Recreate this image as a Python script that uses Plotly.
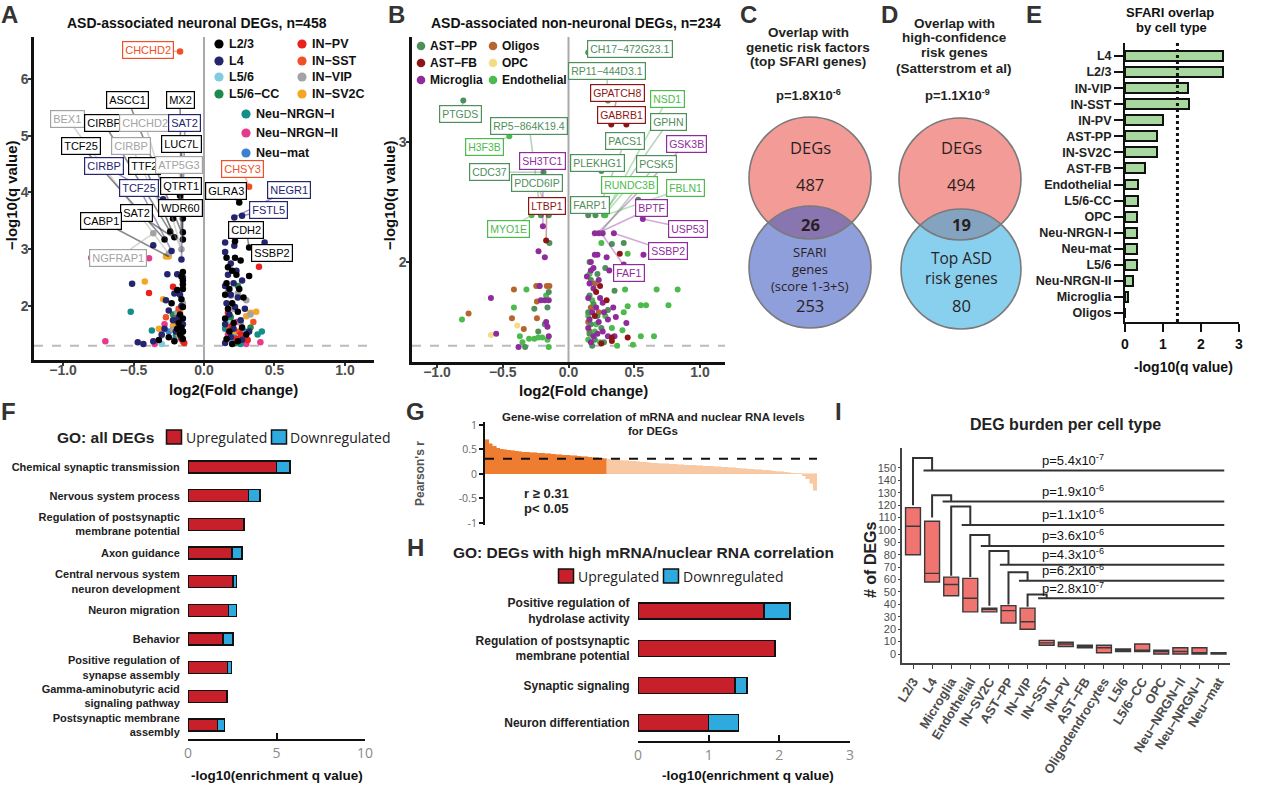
import plotly.graph_objects as go

W, H = 1280, 791
SANS = "Liberation Sans, Arial, Helvetica, sans-serif"
NARROW = "Liberation Sans Narrow, Liberation Sans, Arial, sans-serif"
HUMAN = "Open Sans, Noto Sans, sans-serif"
M = "\u2212"

def fx(x):
    return x / W

def fy(y):
    return 1 - y / H

# ---------------- Panel A data: (log2 fold change, -log10 q) per neuronal cell type
A_L23 = [(-0.17, 3.94), (-0.22, 3.54), (-0.15, 3.54), (-0.24, 3.31), (-0.21, 3.21), (-0.28, 3.17), (-0.15, 3.30),
         (-0.15, 3.17), (-0.15, 2.60), (-0.16, 2.52), (-0.15, 2.45), (-0.15, 2.38), (-0.15, 2.30), (-0.19, 2.28),
         (-0.16, 2.12), (-0.23, 2.05), (-0.15, 1.98), (-0.17, 1.85), (-0.15, 1.78), (-0.18, 1.70), (-0.16, 1.62),
         (-0.15, 1.55), (-0.17, 1.50), (-0.19, 1.60), (-0.25, 1.45), (-0.15, 1.42), (-0.21, 1.38), (-0.32, 1.40),
         (0.25, 3.82), (0.32, 3.03), (0.22, 3.14), (0.16, 2.85), (0.22, 2.85), (0.26, 2.80), (0.17, 2.68),
         (0.20, 2.62), (0.23, 2.55), (0.32, 2.53), (0.16, 2.40), (0.18, 2.30), (0.25, 2.30), (0.15, 2.20),
         (0.28, 2.15), (0.20, 2.05), (0.17, 1.95), (0.24, 1.90), (0.15, 1.78), (0.21, 1.70), (0.27, 1.62),
         (0.18, 1.55), (0.30, 1.50), (0.16, 1.42), (0.24, 1.38), (0.20, 1.33)]
A_L4 = [(-0.29, 3.88), (-0.16, 3.72), (-0.36, 3.07), (-0.23, 2.97), (-0.16, 2.82), (-0.26, 2.56), (-0.19, 2.56),
        (-0.51, 2.39), (-0.15, 2.50), (-0.17, 2.20), (-0.21, 2.22), (-0.27, 2.10), (-0.16, 2.00), (-0.25, 1.92),
        (-0.18, 1.80), (-0.22, 1.75), (-0.15, 1.68), (-0.28, 1.60), (-0.20, 1.55), (-0.47, 1.36), (-0.43, 1.33),
        (-0.36, 1.38), (-0.16, 1.45), (-0.30, 1.50),
        (0.215, 3.56), (0.27, 3.59), (0.15, 3.12), (0.43, 3.12), (0.215, 3.06), (0.15, 2.95), (0.19, 2.75),
        (0.23, 2.62), (0.17, 2.55), (0.27, 2.45), (0.15, 2.35), (0.21, 2.40), (0.19, 2.20), (0.24, 2.15),
        (0.16, 2.05), (0.22, 1.98), (0.29, 1.95), (0.18, 1.85), (0.26, 1.75), (0.15, 1.68), (0.21, 1.60),
        (0.32, 1.55), (0.19, 1.45), (0.27, 1.40), (0.15, 1.35)]
A_L56 = [(-0.22, 1.62), (-0.17, 1.45), (0.20, 1.38), (0.28, 1.50), (-0.30, 1.33), (0.16, 1.72)]
A_L56CC = [(-0.17, 1.70), (-0.22, 1.85), (0.24, 2.35), (0.19, 1.80), (0.28, 1.45), (-0.15, 1.55), (0.33, 1.62),
           (0.22, 1.35)]
A_INPV = [(-0.22, 2.34), (-0.39, 2.23), (0.39, 2.69), (-0.16, 1.42), (-0.14, 1.35), (0.20, 1.65), (0.26, 1.50),
          (0.31, 1.40), (-0.20, 1.75), (0.17, 1.88), (0.23, 1.42)]
A_INSST = [(-0.17, 6.48), (0.32, 4.10), (-0.18, 1.95), (0.25, 1.55), (-0.15, 1.38), (0.35, 1.72), (0.18, 1.62),
           (-0.27, 1.80)]
A_INVIP = [(-0.36, 3.28), (-0.16, 3.00), (-0.25, 2.92), (-0.15, 2.05), (-0.19, 1.88), (0.17, 2.25), (0.24, 2.22),
           (0.19, 2.18), (0.30, 2.10), (0.33, 1.85), (-0.22, 1.58), (0.21, 1.95), (0.26, 1.70), (-0.30, 1.48)]
A_INSV2C = [(-0.27, 2.87), (-0.25, 2.87), (-0.42, 2.43), (-0.29, 2.12), (-0.17, 1.90), (-0.22, 1.65), (-0.18, 1.50),
            (-0.15, 1.38), (0.33, 1.88), (0.37, 1.90), (0.30, 1.82), (0.22, 1.55), (0.27, 1.40), (-0.32, 1.60)]
A_NRGN1 = [(-0.52, 1.90), (-0.37, 1.57), (0.41, 1.55), (0.38, 1.50), (-0.20, 1.48), (0.15, 1.60), (0.26, 1.33)]
A_NRGN2 = [(-0.80, 2.85), (-0.39, 2.84), (-0.70, 1.38), (-0.35, 1.33), (0.40, 1.36), (-0.21, 1.40), (0.17, 1.50),
           (0.23, 1.72), (-0.28, 1.68), (0.30, 1.33)]
A_NEUMAT = [(-0.25, 1.55), (0.19, 1.63), (-0.17, 1.80), (0.29, 1.55), (0.21, 1.48)]

A_NAMES = ["L2/3", "L4", "L5/6", "L5/6" + M + "CC", "IN" + M + "PV", "IN" + M + "SST", "IN" + M + "VIP",
           "IN" + M + "SV2C", "Neu" + M + "NRGN" + M + "I", "Neu" + M + "NRGN" + M + "II", "Neu" + M + "mat"]
A_SETS = [A_L23, A_L4, A_L56, A_L56CC, A_INPV, A_INSST, A_INVIP, A_INSV2C, A_NRGN1, A_NRGN2, A_NEUMAT]
A_COLORS = ["#000000", "#25246e", "#7fcbe0", "#1b8a4c", "#e8231f", "#f05028", "#a3a3a3", "#f5a623",
            "#138f88", "#e83a8c", "#3d7fd0"]

# gene labels: gene, group index, point (x, y), label position (x, y)
A_LABELS = [
    ("CHCHD2", 5, -0.17, 6.48, -0.40, 6.50), ("ASCC1", 0, -0.16, 3.30, -0.54, 5.63),
    ("MX2", 0, -0.16, 3.30, -0.17, 5.63), ("BEX1", 6, -0.25, 2.92, -0.97, 5.30),
    ("CIRBP", 0, -0.24, 3.31, -0.71, 5.22), ("CHCHD2", 6, -0.16, 3.00, -0.42, 5.23),
    ("SAT2", 1, -0.16, 2.82, -0.135, 5.23), ("TCF25", 0, -0.28, 3.17, -0.87, 4.82),
    ("CIRBP", 6, -0.16, 3.00, -0.52, 4.82), ("LUC7L", 0, -0.15, 3.17, -0.16, 4.85),
    ("CIRBP", 1, -0.29, 3.88, -0.71, 4.46), ("TTF2", 0, -0.21, 3.21, -0.42, 4.46),
    ("ATP5G3", 6, -0.16, 3.00, -0.175, 4.48), ("TCF25", 1, -0.23, 2.97, -0.46, 4.08),
    ("QTRT1", 0, -0.17, 3.94, -0.16, 4.11), ("WDR60", 0, -0.15, 3.54, -0.165, 3.72),
    ("SAT2", 0, -0.22, 3.21, -0.48, 3.64), ("CABP1", 0, -0.25, 2.87, -0.73, 3.50),
    ("NGFRAP1", 6, -0.36, 3.28, -0.61, 2.85), ("CHSY3", 5, 0.32, 4.10, 0.27, 4.41),
    ("GLRA3", 0, 0.25, 3.82, 0.155, 4.03), ("NEGR1", 1, 0.215, 3.56, 0.605, 4.05),
    ("FSTL5", 1, 0.27, 3.59, 0.456, 3.69), ("CDH2", 0, 0.32, 3.03, 0.30, 3.33),
    ("SSBP2", 0, 0.32, 3.03, 0.48, 2.93),
]

# ---------------- Panel B data: non-neuronal cell types
B_ASTPP = [(0.15, 3.75), (-0.80, 3.35), (0.30, 3.35), (-0.19, 2.75), (0.25, 2.76), (-0.21, 2.39), (-0.15, 2.39),
           (0.15, 2.39), (0.205, 2.39), (0.53, 2.52), (-0.145, 2.16), (0.33, 2.15), (0.42, 2.16), (0.35, 1.76),
           (-0.26, 1.61), (-0.23, 1.42), (-0.33, 1.29), (-0.15, 1.75), (0.17, 1.85), (0.16, 1.72), (0.19, 1.65),
           (0.15, 1.58), (0.22, 1.55), (0.17, 1.48), (0.25, 1.45), (0.16, 1.40), (0.20, 1.35), (0.30, 1.60),
           (0.18, 1.30), (0.28, 1.95), (-0.18, 1.48), (-0.16, 1.62), (0.27, 1.33), (0.22, 1.90), (0.16, 2.00)]
B_ASTFB = [(0.325, 3.15), (0.44, 3.15), (-0.17, 2.18), (0.39, 2.07), (0.45, 1.37), (0.33, 1.34), (0.33, 1.37),
           (0.24, 1.80), (0.29, 1.68), (0.21, 1.75), (0.25, 1.32), (0.20, 1.55)]
B_MICRO = [(-0.195, 2.30), (-0.228, 2.09), (-0.18, 2.04), (0.565, 2.36), (0.20, 2.24), (0.23, 2.24), (0.26, 2.24),
           (0.345, 2.24), (0.57, 2.06), (0.20, 2.06), (0.22, 2.06), (0.29, 2.04), (0.17, 2.00), (0.31, 1.93),
           (0.42, 1.98), (0.17, 1.93), (0.14, 1.88), (0.34, 1.62), (0.36, 1.54), (0.44, 1.49), (-0.59, 1.70),
           (-0.55, 1.40), (-0.38, 1.29), (-0.21, 1.68), (-0.18, 1.68), (-0.15, 1.68), (-0.17, 1.50), (-0.16, 1.46),
           (-0.15, 1.38), (-0.22, 1.80), (0.16, 1.82), (0.19, 1.78), (0.15, 1.70), (0.21, 1.62), (0.18, 1.58),
           (0.23, 1.50), (0.15, 1.45), (0.26, 1.42), (0.19, 1.38), (0.17, 1.33), (0.30, 1.38), (0.24, 1.70),
           (0.27, 1.58), (0.22, 1.40), (0.16, 1.52), (0.19, 1.95), (0.23, 1.85), (0.26, 1.66), (0.30, 1.52),
           (0.35, 1.38)]
B_OLIG = [(-0.245, 1.80), (-0.22, 1.80), (-0.165, 1.80), (-0.145, 1.80), (-0.415, 1.77), (-0.76, 1.57),
          (-0.24, 1.67), (-0.43, 1.53), (-0.24, 1.53), (-0.34, 1.44), (0.17, 1.62), (0.23, 1.58), (0.16, 1.42),
          (0.20, 1.82), (0.15, 1.50)]
B_OPC = [(-0.39, 1.47), (-0.59, 1.39)]
B_ENDO = [(-0.45, 3.05), (-0.28, 2.39), (0.27, 2.39), (0.28, 2.39), (0.25, 2.16), (0.45, 2.07), (0.43, 1.77),
          (0.67, 1.77), (0.83, 1.77), (0.55, 1.64), (0.59, 1.64), (0.76, 1.64), (0.45, 1.63), (0.42, 1.58),
          (0.41, 1.43), (0.55, 1.38), (0.65, 1.38), (0.49, 1.31), (-0.32, 1.77), (-0.81, 1.52), (-0.415, 1.62),
          (-0.37, 1.38), (-0.30, 1.36), (-0.26, 1.36), (-0.23, 1.37), (-0.20, 1.37), (-0.16, 1.35), (-0.15, 1.29),
          (-0.35, 1.33), (-0.17, 1.72), (0.16, 1.90), (0.18, 1.68), (0.15, 1.55), (0.21, 1.48), (0.24, 1.33),
          (0.28, 1.55), (0.33, 1.45), (0.15, 1.35), (0.20, 1.42), (0.37, 1.30)]

B_NAMES = ["AST" + M + "PP", "AST" + M + "FB", "Microglia", "Oligos", "OPC", "Endothelial"]
B_SETS = [B_ASTPP, B_ASTFB, B_MICRO, B_OLIG, B_OPC, B_ENDO]
B_COLORS = ["#4f8f5b", "#8e1515", "#8e2c9b", "#b5652d", "#f2dd85", "#4dba4d"]

B_LABELS = [
    ("CH17" + M + "472G23.1", 0, 0.15, 3.75, 0.47, 3.78), ("RP11" + M + "444D3.1", 0, 0.30, 3.35, 0.29, 3.60),
    ("GPATCH8", 1, 0.325, 3.15, 0.375, 3.41), ("GABRB1", 1, 0.44, 3.15, 0.405, 3.23),
    ("NSD1", 5, 0.27, 2.39, 0.75, 3.36), ("GPHN", 0, 0.26, 2.39, 0.76, 3.17),
    ("PTGDS", 0, -0.80, 3.35, -0.82, 3.24), ("RP5" + M + "864K19.4", 0, -0.21, 2.39, -0.30, 3.14),
    ("H3F3B", 5, -0.45, 3.05, -0.64, 2.96), ("PACS1", 0, 0.21, 2.39, 0.43, 3.01),
    ("GSK3B", 2, 0.22, 2.24, 0.895, 2.99), ("SH3TC1", 2, -0.195, 2.30, -0.195, 2.84),
    ("CDC37", 0, -0.19, 2.75, -0.60, 2.75), ("PLEKHG1", 0, 0.25, 2.76, 0.22, 2.83),
    ("PCSK5", 0, 0.24, 2.24, 0.67, 2.82), ("PDCD6IP", 0, -0.15, 2.39, -0.24, 2.66),
    ("RUNDC3B", 5, 0.27, 2.39, 0.464, 2.64), ("FBLN1", 5, 0.28, 2.39, 0.89, 2.62),
    ("LTBP1", 1, -0.17, 2.18, -0.165, 2.47), ("FARP1", 0, 0.15, 2.39, 0.165, 2.48),
    ("MYO1E", 5, -0.28, 2.39, -0.46, 2.28), ("BPTF", 2, 0.22, 2.24, 0.63, 2.45),
    ("USP53", 2, 0.565, 2.36, 0.91, 2.28), ("SSBP2", 2, 0.345, 2.24, 0.755, 2.09),
    ("FAF1", 2, 0.25, 2.24, 0.46, 1.91),
]

# ---------------- Panels C / D (Venn counts)
C_DEG_ONLY, C_OVERLAP, C_SFARI_ONLY = 487, 26, 253
D_DEG_ONLY, D_OVERLAP, D_RISK_ONLY = 494, 19, 80

# ---------------- Panel E
E_CATS = ["L4", "L2/3", "IN-VIP", "IN-SST", "IN-PV", "AST-PP", "IN-SV2C", "AST-FB", "Endothelial", "L5/6-CC",
          "OPC", "Neu-NRGN-I", "Neu-mat", "L5/6", "Neu-NRGN-II", "Microglia", "Oligos"]
E_VALS = [2.59, 2.59, 1.67, 1.68, 1.01, 0.83, 0.83, 0.53, 0.35, 0.35, 0.32, 0.32, 0.32, 0.31, 0.22, 0.09, 0.0]
E_THRESH = 1.38

# ---------------- Panel F
F_TERMS = ["Chemical synaptic transmission", "Nervous system process",
           "Regulation of postsynaptic<br>membrane potential", "Axon guidance",
           "Central nervous system<br>neuron development", "Neuron migration", "Behavior",
           "Positive regulation of<br>synapse assembly", "Gamma-aminobutyric acid<br>signaling pathway",
           "Postsynaptic membrane<br>assembly"]
F_UP = [5.0, 3.43, 3.15, 2.49, 2.55, 2.28, 1.98, 2.23, 2.21, 1.66]
F_DOWN = [0.75, 0.63, 0.0, 0.57, 0.19, 0.46, 0.55, 0.22, 0.0, 0.40]

# ---------------- Panel G (sorted gene-wise Pearson r)
G_R = [0.70, 0.62, 0.57, 0.53, 0.50, 0.49, 0.48, 0.47, 0.46, 0.45, 0.445, 0.44, 0.435, 0.43, 0.425, 0.42,
       0.415, 0.41, 0.40, 0.395, 0.39, 0.385, 0.38, 0.375, 0.37, 0.36, 0.355, 0.35, 0.34, 0.335, 0.33, 0.32,
       0.315,
       0.30, 0.295, 0.29, 0.28, 0.275, 0.27, 0.26, 0.255, 0.25, 0.24, 0.235, 0.23,
       0.22, 0.215, 0.21, 0.21, 0.205, 0.20, 0.195, 0.19, 0.185, 0.18, 0.18, 0.175, 0.17, 0.165, 0.16, 0.16,
       0.155, 0.15,
       0.145, 0.14, 0.135, 0.13, 0.125, 0.12, 0.11, 0.105, 0.10, 0.095, 0.09, 0.085, 0.08,
       0.075, 0.07, 0.06, 0.05, 0.045, 0.04, 0.03, 0.02, 0.01, 0.005,
       -0.04, -0.10, -0.19, -0.33]
G_CUT = 0.31

# ---------------- Panel H
H_TERMS = ["Positive regulation of<br>hydrolase activity", "Regulation of postsynaptic<br>membrane potential",
           "Synaptic signaling", "Neuron differentiation"]
H_UP = [1.78, 1.94, 1.37, 1.00]
H_DOWN = [0.37, 0.0, 0.17, 0.42]

# ---------------- Panel I
I_CATS = ["L2/3", "L4", "Microglia", "Endothelial", "IN" + M + "SV2C", "AST" + M + "PP", "IN" + M + "VIP",
          "IN" + M + "SST", "IN" + M + "PV", "AST" + M + "FB", "Oligodendrocytes", "L5/6", "L5/6" + M + "CC",
          "OPC", "Neu" + M + "NRGN" + M + "II", "Neu" + M + "NRGN" + M + "I", "Neu" + M + "mat"]
I_LOW = [80, 58, 47, 34, 34, 25, 20, 7, 6, 5, 1, 2, 2, 0, 0, 0, 0]
I_MED = [103, 65, 56, 45, 36, 35, 26, 9, 8, 6, 5, 3, 3, 2, 2, 1, 0.5]
I_HIGH = [118, 107, 62, 61, 37, 39, 37, 11, 9.5, 7, 7, 4, 8, 3, 5, 5, 1]
I_BR_START = [120, 110, 63, 62, 39, 40, 38]
I_BR_TOP = [158, 128, 119, 96, 83, 66, 48]
I_BR_LINE = [148, 123, 104, 87, 72, 59, 45]
I_PVALS = ["5.4x10<sup>-7</sup>", "1.9x10<sup>-6</sup>", "1.1x10<sup>-6</sup>", "3.6x10<sup>-6</sup>",
           "4.3x10<sup>-6</sup>", "6.2x10<sup>-6</sup>", "2.8x10<sup>-7</sup>"]


def rgba(hexc, a):
    h = hexc.lstrip("#")
    return "rgba(%d,%d,%d,%.2f)" % (int(h[0:2], 16), int(h[2:4], 16), int(h[4:6], 16), a)


fig = go.Figure()
annotations = []
shapes = []


def text(x, y, t, size=12, color="#111", family=SANS, bold=False, xanchor="center", yanchor="middle",
         angle=0, align="center"):
    annotations.append(dict(x=fx(x), y=fy(y), xref="paper", yref="paper", text=t, showarrow=False,
                            font=dict(size=size, color=color, family=family, weight="bold" if bold else "normal"),
                            xanchor=xanchor, yanchor=yanchor, textangle=angle, align=align))


def dot(cx, cy, r, color):
    shapes.append(dict(type="circle", xref="paper", yref="paper", x0=fx(cx - r), x1=fx(cx + r),
                       y0=fy(cy + r), y1=fy(cy - r), fillcolor=color, line=dict(width=0)))


def square(cx, cy, w, h, color):
    shapes.append(dict(type="rect", xref="paper", yref="paper", x0=fx(cx - w / 2), x1=fx(cx + w / 2),
                       y0=fy(cy + h / 2), y1=fy(cy - h / 2), fillcolor=color, line=dict(color="#111", width=1.5)))


# ---------------- traces A
order_A = [10, 9, 8, 2, 3, 7, 6, 5, 4, 1, 0]
for i in order_A:
    pts = A_SETS[i]
    fig.add_trace(go.Scatter(x=[p[0] for p in pts], y=[p[1] for p in pts], mode="markers",
                             marker=dict(color=A_COLORS[i], size=6.5), xaxis="x", yaxis="y",
                             showlegend=False, hoverinfo="skip"))
for g, gi, x0, y0, lx, ly in A_LABELS:
    c = A_COLORS[gi]
    annotations.append(dict(x=x0, y=y0, xref="x", yref="y", ax=lx, ay=ly, axref="x", ayref="y", text=g,
                            showarrow=True, arrowhead=0, arrowwidth=1.6, arrowcolor=rgba(c, 0.45), standoff=0,
                            bordercolor=c, borderwidth=1.2, borderpad=2, bgcolor="white",
                            font=dict(size=11, color=c, family=SANS)))

# ---------------- traces B
order_B = [4, 3, 5, 0, 2, 1]
for i in order_B:
    pts = B_SETS[i]
    fig.add_trace(go.Scatter(x=[p[0] for p in pts], y=[p[1] for p in pts], mode="markers",
                             marker=dict(color=B_COLORS[i], size=6), xaxis="x2", yaxis="y2",
                             showlegend=False, hoverinfo="skip"))
for g, gi, x0, y0, lx, ly in B_LABELS:
    c = B_COLORS[gi]
    annotations.append(dict(x=x0, y=y0, xref="x2", yref="y2", ax=lx, ay=ly, axref="x2", ayref="y2", text=g,
                            showarrow=True, arrowhead=0, arrowwidth=1.6, arrowcolor=rgba(c, 0.4), standoff=0,
                            bordercolor=c, borderwidth=1.2, borderpad=2, bgcolor="white",
                            font=dict(size=10.5, color=c, family=SANS)))

# ---------------- E bars
fig.add_trace(go.Bar(x=E_VALS, y=list(range(len(E_CATS))), orientation="h", width=0.62,
                     marker=dict(color="#a8d8a0", line=dict(color="#111", width=2)),
                     xaxis="x3", yaxis="y3", showlegend=False, hoverinfo="skip"))

# ---------------- F bars
F_idx = list(range(len(F_TERMS)))
fig.add_trace(go.Bar(x=F_UP, y=F_idx, orientation="h", width=0.42,
                     marker=dict(color="#c8202b", line=dict(color="#111", width=1.5)),
                     xaxis="x4", yaxis="y4", showlegend=False, hoverinfo="skip"))
fig.add_trace(go.Bar(x=F_DOWN, y=F_idx, orientation="h", width=0.42,
                     marker=dict(color="#2eaadf", line=dict(color="#111", width=1.5)),
                     xaxis="x4", yaxis="y4", showlegend=False, hoverinfo="skip"))

# ---------------- G bars
G_cols = ["#ee7d31" if r >= G_CUT else "#f9c9a3" for r in G_R]
fig.add_trace(go.Bar(x=list(range(len(G_R))), y=G_R, width=1.0,
                     marker=dict(color=G_cols, line=dict(color=G_cols, width=0.6)),
                     xaxis="x5", yaxis="y5", showlegend=False, hoverinfo="skip"))

# ---------------- H bars
H_idx = list(range(len(H_TERMS)))
fig.add_trace(go.Bar(x=H_UP, y=H_idx, orientation="h", width=0.43,
                     marker=dict(color="#c8202b", line=dict(color="#111", width=1.5)),
                     xaxis="x6", yaxis="y6", showlegend=False, hoverinfo="skip"))
fig.add_trace(go.Bar(x=H_DOWN, y=H_idx, orientation="h", width=0.43,
                     marker=dict(color="#2eaadf", line=dict(color="#111", width=1.5)),
                     xaxis="x6", yaxis="y6", showlegend=False, hoverinfo="skip"))

# ---------------- I boxes + brackets
I_idx = list(range(len(I_CATS)))
fig.add_trace(go.Box(x=I_idx, q1=I_LOW, median=I_MED, q3=I_HIGH, lowerfence=I_LOW, upperfence=I_HIGH,
                     fillcolor="#f07470", line=dict(color="#3a3a3a", width=1.4), width=0.78,
                     boxpoints=False, xaxis="x7", yaxis="y7", showlegend=False, hoverinfo="skip"))
bx, by = [], []
for k in range(len(I_BR_TOP)):
    bx += [k, k, k + 1, k + 1, None, k + 0.55, 16.3, None]
    by += [I_BR_START[k], I_BR_TOP[k], I_BR_TOP[k], I_BR_LINE[k], None, I_BR_LINE[k], I_BR_LINE[k], None]
    annotations.append(dict(x=8.4, y=I_BR_LINE[k] + 0.5, xref="x7", yref="y7", text="p=" + I_PVALS[k],
                            showarrow=False, yanchor="bottom",
                            font=dict(size=13, color="#111", family=SANS)))
fig.add_trace(go.Scatter(x=bx, y=by, mode="lines", line=dict(color="#333", width=2),
                         xaxis="x7", yaxis="y7", showlegend=False, hoverinfo="skip"))

# ---------------- shapes in data space
shapes += [
    dict(type="line", xref="x", yref="y domain", x0=0, x1=0, y0=0, y1=1, line=dict(color="#aaaaaa", width=2),
         layer="below"),
    dict(type="line", xref="x domain", yref="y", x0=0, x1=1, y0=1.3, y1=1.3,
         line=dict(color="#bbbbbb", width=2, dash="dash"), layer="below"),
    dict(type="line", xref="x2", yref="y2 domain", x0=0, x1=0, y0=0, y1=1, line=dict(color="#aaaaaa", width=2),
         layer="below"),
    dict(type="line", xref="x2 domain", yref="y2", x0=0, x1=1, y0=1.3, y1=1.3,
         line=dict(color="#bbbbbb", width=2, dash="dash"), layer="below"),
    dict(type="line", xref="x3", yref="y3 domain", x0=E_THRESH, x1=E_THRESH, y0=0, y1=1,
         line=dict(color="#111", width=3, dash="dot")),
    dict(type="line", xref="x5 domain", yref="y5", x0=0, x1=1, y0=G_CUT, y1=G_CUT,
         line=dict(color="#111", width=2, dash="dash")),
]

# ---------------- Venn diagrams (C, D)
def circle(cx, cy, r, fill, line=True):
    shapes.append(dict(type="circle", xref="paper", yref="paper", x0=fx(cx - r), x1=fx(cx + r),
                       y0=fy(cy + r), y1=fy(cy - r), fillcolor=fill,
                       line=dict(color="#7a7a7a", width=1.6) if line else dict(width=0)))

circle(810, 178, 61, "#f39c97", False)
circle(810, 267, 61, "rgba(60,90,195,0.58)", False)
circle(810, 178, 61, "rgba(0,0,0,0)")
circle(810, 267, 61, "rgba(0,0,0,0)")
circle(960, 179, 61, "#f39c97", False)
circle(961, 269, 60, "rgba(40,170,225,0.55)", False)
circle(960, 179, 61, "rgba(0,0,0,0)")
circle(961, 269, 60, "rgba(0,0,0,0)")

VC = "#2a1f1f"
text(810, 147, "DEGs", 16.5, VC, HUMAN)
text(810, 184, str(C_DEG_ONLY), 16.5, VC, HUMAN)
text(810, 224, str(C_OVERLAP), 16.5, VC, HUMAN, bold=True)
text(810, 252, "SFARI", 13, VC, HUMAN)
text(810, 269, "genes", 13, VC, HUMAN)
text(810, 286, "(score 1-3+S)", 13, VC, HUMAN)
text(810, 305, str(C_SFARI_ONLY), 16.5, VC, HUMAN)
text(961, 147, "DEGs", 16.5, VC, HUMAN)
text(961, 184, str(D_DEG_ONLY), 16.5, VC, HUMAN)
text(961, 224, str(D_OVERLAP), 16.5, VC, HUMAN, bold=True)
text(961, 258, "Top ASD", 15.5, VC, HUMAN)
text(961, 278, "risk genes", 15.5, VC, HUMAN)
text(961, 305, str(D_RISK_ONLY), 16.5, VC, HUMAN)

TC = "#231f20"
for i, t in enumerate(["Overlap with", "genetic risk factors", "(top SFARI genes)"]):
    text(808, 32 + 15 * i, t, 13.5, TC, bold=True)
text(808, 95, "p=1.8X10<sup>-6</sup>", 13, TC, bold=True)
for i, t in enumerate(["Overlap with", "high-confidence", "risk genes", "(Satterstrom et al)"]):
    text(954, 23 + 15 * i, t, 13.5, TC, bold=True)
text(957, 95, "p=1.1X10<sup>-9</sup>", 13, TC, bold=True)

# ---------------- panel letters
for L, x, y in [("A", 9, 15), ("B", 396, 15), ("C", 748, 15), ("D", 889, 15), ("E", 1034, 15),
                ("F", 8, 411), ("G", 415, 411), ("H", 415, 547), ("I", 838, 411)]:
    text(x, y, L, 24, "#333", NARROW, bold=True)

# ---------------- titles and axis titles
text(197, 23, "ASD-associated neuronal DEGs, n=458", 14, "#111", bold=True)
text(576, 23, "ASD-associated non-neuronal DEGs, n=234", 14, "#111", bold=True)
text(11, 195, M + "log10(q value)", 15, "#111", bold=True, angle=-90)
text(389, 195, M + "log10(q value)", 15, "#111", bold=True, angle=-90)
text(233, 389, "log2(Fold change)", 15, "#111", bold=True)
text(583, 390, "log2(Fold change)", 15, "#111", bold=True)

text(1170, 12, "SFARI overlap", 13, "#111", bold=True)
text(1171, 27, "by cell type", 13, "#111", bold=True)
text(1183, 367, "-log10(q value)", 14, "#111", bold=True)

text(105, 437, "GO: all DEGs", 15.5, "#222", bold=True)
square(174, 437, 15, 14, "#c8202b")
text(184, 437, "Upregulated", 14, "#222", HUMAN, xanchor="left")
square(279, 437, 15, 14, "#2eaadf")
text(288, 437, "Downregulated", 14, "#222", HUMAN, xanchor="left")
text(277, 775, "-log10(enrichment q value)", 13.5, "#111", bold=True)

text(653, 417, "Gene-wise correlation of mRNA and nuclear RNA levels", 11.5, "#222", bold=True)
text(653, 431, "for DEGs", 11.5, "#222", bold=True)
text(420, 474, "Pearson's r", 12, "#555", bold=True, angle=-90)
text(522, 493, "r \u2265 0.31", 13, "#222", bold=True, xanchor="left")
text(522, 508, "p< 0.05", 13, "#222", bold=True, xanchor="left")

text(643, 552, "GO: DEGs with high mRNA/nuclear RNA correlation", 15.5, "#222", bold=True)
square(566, 576, 15, 14, "#c8202b")
text(576, 576, "Upregulated", 14, "#222", HUMAN, xanchor="left")
square(671, 576, 15, 14, "#2eaadf")
text(681, 576, "Downregulated", 14, "#222", HUMAN, xanchor="left")
text(748, 775, "-log10(enrichment q value)", 13.5, "#111", bold=True)

text(1065, 424, "DEG burden per cell type", 16, "#222", bold=True)
text(870, 560, "# of DEGs", 16, "#222", bold=True, angle=-90)

# ---------------- manual legends for A and B
A_LEG = [(0, 219, 44), (1, 219, 61), (2, 219, 77), (3, 219, 94), (4, 302, 44), (5, 302, 61), (6, 302, 77),
         (7, 302, 94), (8, 246, 114), (9, 246, 133), (10, 246, 153)]
for gi, x, y in A_LEG:
    dot(x, y, 4.6, A_COLORS[gi])
    text(x + 8, y, A_NAMES[gi], 12.5, "#111", bold=True, xanchor="left")
B_LEG = [(0, 421, 46), (1, 421, 63), (2, 421, 80), (3, 493, 46), (4, 493, 63), (5, 493, 80)]
for gi, x, y in B_LEG:
    dot(x, y, 4.3, B_COLORS[gi])
    text(x + 7, y, B_NAMES[gi], 12, "#111", bold=True, xanchor="left")

# ---------------- axes
base = dict(showgrid=False, zeroline=False, automargin=False, fixedrange=True)
tick_gray_bold = dict(size=14, color="#4d4d4d", family=SANS, weight="bold")

fig.update_layout(
    width=W, height=H, margin=dict(l=0, r=0, t=0, b=0), plot_bgcolor="white", paper_bgcolor="white",
    barmode="stack", template="none", showlegend=False,
    xaxis=dict(base, domain=[fx(34), fx(374)], range=[-1.206, 1.206], anchor="y", showline=True,
               linecolor="#111", linewidth=2.5, ticks="outside", ticklen=3, tickwidth=1.5, tickcolor="#333",
               tickvals=[-1, -0.5, 0, 0.5, 1], tickformat=".1f", tickfont=tick_gray_bold,
               ticklabelstandoff=-8),
    yaxis=dict(base, domain=[fy(360), fy(37)], range=[1.049, 6.736], anchor="x", showline=True,
               linecolor="#111", linewidth=2.5, ticks="outside", ticklen=3, tickwidth=1.5, tickcolor="#333",
               tickvals=[2, 3, 4, 5, 6], tickfont=tick_gray_bold, ticklabelstandoff=-3),
    xaxis2=dict(base, domain=[fx(412), fx(725)], range=[-1.19, 1.19], anchor="y2", showline=True,
                linecolor="#111", linewidth=2.5, ticks="outside", ticklen=3, tickwidth=1.5, tickcolor="#333",
                tickvals=[-1, -0.5, 0, 0.5, 1], tickformat=".1f", tickfont=tick_gray_bold,
                ticklabelstandoff=-8),
    yaxis2=dict(base, domain=[fy(362), fy(37)], range=[1.165, 3.88], anchor="x2", showline=True,
                linecolor="#111", linewidth=2.5, ticks="outside", ticklen=3, tickwidth=1.5, tickcolor="#333",
                tickvals=[2, 3], tickfont=tick_gray_bold, ticklabelstandoff=-3),
    xaxis3=dict(base, domain=[fx(1125), fx(1239)], range=[0, 3], anchor="y3", showline=True,
                linecolor="#111", linewidth=2, ticks="outside", ticklen=8, tickwidth=2, tickcolor="#111",
                tickvals=[0, 1, 2, 3], tickfont=dict(size=14, color="#111", family=SANS, weight="bold")),
    yaxis3=dict(base, domain=[fy(322), fy(43)], range=[16.56, -0.81], anchor="x3", showline=True,
                linecolor="#111", linewidth=2, ticks="outside", ticklen=9, tickwidth=2, tickcolor="#111",
                tickvals=list(range(len(E_CATS))), ticktext=E_CATS,
                tickfont=dict(size=12.5, color="#222", family=SANS, weight="bold")),
    xaxis4=dict(base, domain=[fx(188), fx(365)], range=[0, 10], anchor="y4", showline=True,
                linecolor="#111", linewidth=2, ticks="inside", ticklen=6, tickwidth=2, tickcolor="#111",
                tickvals=[0, 5, 10], tickfont=dict(size=14, color="#8a8a8a", family=HUMAN)),
    yaxis4=dict(base, domain=[fy(739), fy(455)], range=[9.49, -0.42], anchor="x4", showline=False,
                ticks="outside", ticklen=5, tickcolor="rgba(0,0,0,0)", tickvals=F_idx, ticktext=F_TERMS,
                tickfont=dict(size=11, color="#222", family=SANS, weight="bold")),
    xaxis5=dict(base, domain=[fx(485), fx(817)], range=[-0.5, len(G_R) - 0.5], anchor="y5", showline=False,
                showticklabels=False, ticks=""),
    yaxis5=dict(base, domain=[fy(525), fy(422)], range=[-1.041, 1.061], anchor="x5", showline=True,
                linecolor="#111", linewidth=2, ticks="outside", ticklen=4, tickwidth=2, tickcolor="#111",
                tickvals=[-1, -0.5, 0, 0.5, 1], ticktext=["-1", "-0.5", "0", "0.5", "1"],
                tickfont=dict(size=10.5, color="#666", family=HUMAN)),
    xaxis6=dict(base, domain=[fx(638), fx(850)], range=[0, 3], anchor="y6", showline=True,
                linecolor="#111", linewidth=2, ticks="inside", ticklen=6, tickwidth=2, tickcolor="#111",
                tickvals=[0, 1, 2, 3], tickfont=dict(size=14, color="#8a8a8a", family=HUMAN)),
    yaxis6=dict(base, domain=[fy(741), fy(595)], range=[3.49, -0.43], anchor="x6", showline=False,
                ticks="outside", ticklen=5, tickcolor="rgba(0,0,0,0)", tickvals=H_idx, ticktext=H_TERMS,
                tickfont=dict(size=12, color="#222", family=SANS, weight="bold")),
    xaxis7=dict(base, domain=[fx(902), fx(1230)], range=[-0.576, 16.6], anchor="y7", showline=True,
                linecolor="#444", linewidth=1.5, ticks="outside", ticklen=4, tickwidth=1.2, tickcolor="#444",
                tickvals=I_idx, ticktext=I_CATS, tickangle=-58,
                tickfont=dict(size=13, color="#4d4d4d", family=SANS, weight="bold")),
    yaxis7=dict(base, domain=[fy(663), fy(448)], range=[-7.26, 166.1], anchor="x7", showline=True,
                linecolor="#444", linewidth=1.5, ticks="outside", ticklen=2, tickwidth=1.2, tickcolor="#444",
                tickvals=list(range(0, 151, 10)), tickfont=dict(size=11, color="#4d4d4d", family=SANS)),
    annotations=annotations,
    shapes=shapes,
)

fig.write_html("out.html", config={"displayModeBar": False},
               post_script="document.body.style.margin='0';")
